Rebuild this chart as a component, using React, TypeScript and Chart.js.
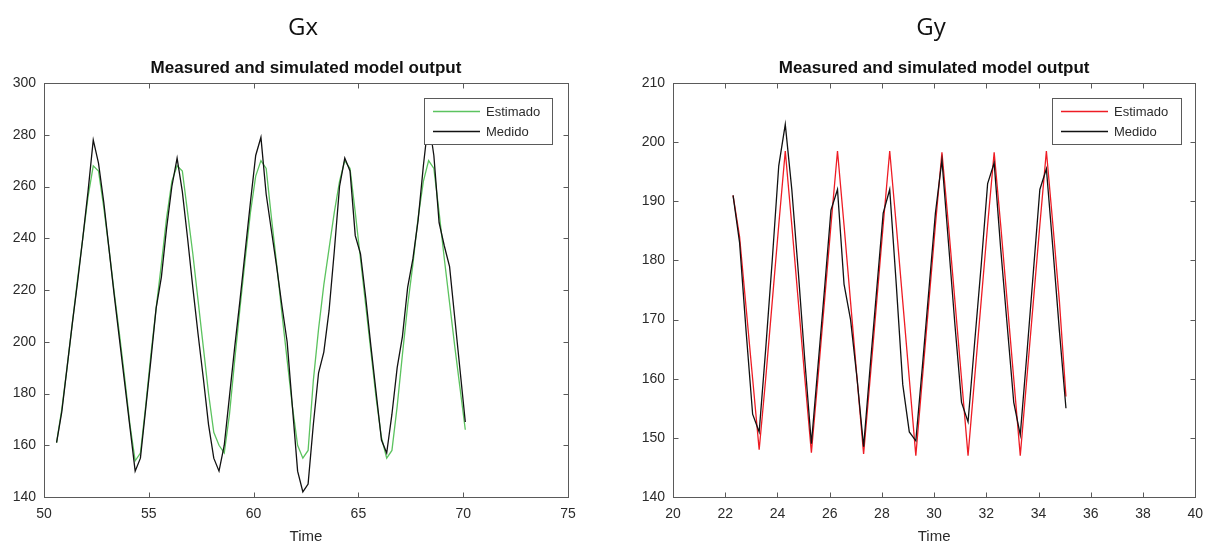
import React, { useEffect, useRef } from "react";
import { Chart, registerables } from "chart.js";

Chart.register(...registerables);

// ---------- Gx data ----------
const gxTime = [
  50.6, 50.85, 51.1, 51.35, 51.6, 51.85, 52.1, 52.35, 52.6, 52.85, 53.1, 53.35, 53.6, 53.85, 54.1, 54.35,
  54.6, 54.85, 55.1, 55.35, 55.6, 55.85, 56.1, 56.35, 56.6, 56.85, 57.1, 57.35, 57.6, 57.85, 58.1, 58.35,
  58.6, 58.85, 59.1, 59.35, 59.6, 59.85, 60.1, 60.35, 60.6, 60.85, 61.1, 61.35, 61.6, 61.85, 62.1, 62.35,
  62.6, 62.85, 63.1, 63.35, 63.6, 63.85, 64.1, 64.35, 64.6, 64.85, 65.1, 65.35, 65.6, 65.85, 66.1, 66.35,
  66.6, 66.85, 67.1, 67.35, 67.6, 67.85, 68.1, 68.35, 68.6, 68.85, 69.1, 69.35, 69.6, 69.85, 70.1,
];
const gxMeasured = [
  161, 173, 190, 207, 223, 240, 258, 278,
  269, 254, 236, 218, 201, 184, 167, 150,
  155, 174, 193, 213, 225, 244, 260, 271,
  258, 240, 221, 203, 186, 168, 155, 150,
  160, 179, 198, 216, 235, 254, 272, 279,
  257, 243, 229, 214, 200, 175, 150, 142,
  145, 168, 188, 196, 212, 235, 260, 271,
  266, 241, 234, 217, 198, 180, 162, 157,
  172, 190, 202, 221, 232, 247, 268, 286,
  272, 246, 237, 229, 209, 189, 169,
];
const gxEstimated = [
  161, 174, 190, 207, 224, 240, 256, 268,
  266, 252, 236, 219, 203, 186, 168, 154,
  157, 175, 195, 213, 230, 248, 262, 268,
  266, 250, 234, 216, 198, 180, 165, 160,
  157, 172, 193, 213, 232, 250, 264, 270,
  267, 248, 230, 211, 193, 175, 160, 155,
  158, 185, 205, 222, 236, 250, 262, 270,
  267, 250, 232, 214, 196, 178, 163, 155,
  158, 175, 195, 214, 230, 248, 262, 270,
  267, 250, 232, 215, 198, 182, 166,
];

// ---------- Gy data ----------
const gyTime = [
  22.3, 22.55, 22.8, 23.05, 23.3, 23.55, 23.8, 24.05, 24.3, 24.55, 24.8, 25.05, 25.3,
  25.55, 25.8, 26.05, 26.3, 26.55, 26.8, 27.05, 27.3, 27.55, 27.8, 28.05, 28.3,
  28.55, 28.8, 29.05, 29.3, 29.55, 29.8, 30.05, 30.3, 30.55, 30.8, 31.05, 31.3,
  31.55, 31.8, 32.05, 32.3, 32.55, 32.8, 33.05, 33.3, 33.55, 33.8, 34.05, 34.3,
  34.55, 34.8, 35.05,
];
const gyMeasured = [
  191, 183, 168, 154, 151, 165, 180, 196, 203, 192, 178, 163, 149,
  162, 175, 188.5, 192, 176, 170, 160, 148.5, 162, 175, 188, 192,
  176, 159, 151, 149.5, 162, 175, 188, 197, 183, 169, 156, 152.7,
  166, 179, 193, 196.5, 182, 169, 156, 150.5, 164, 178, 192, 195.5,
  182, 168, 155,
];
const gyEstimated = [
  191, 184, 172, 160, 148, 160, 173, 186, 198.5, 186, 173, 160, 147.5,
  160, 173, 186, 198.5, 186, 173, 160, 147.3, 160, 173, 186, 198.5,
  186, 173, 160, 147, 160, 173, 186, 198.3, 186, 173, 160, 147,
  160, 173, 186, 198.3, 186, 173, 160, 147, 160, 173, 186, 198.5,
  186, 173, 157,
];

// ---------- labels ----------
const subtitleText = "Measured and simulated model output";
const xAxisLabel = "Time";
const legendLabels = ["Estimado", "Medido"];

const FONT = "'Liberation Sans', Arial, sans-serif";
const FRAME = "#5a5a5a";
const TEXT = "#2b2b2b";

type PanelCfg = {
  title: string;
  time: number[];
  measured: number[];
  estimated: number[];
  estColor: string;
  xMin: number; xMax: number; xStep: number;
  yMin: number; yMax: number; yStep: number;
  yAxisWidth: number;
  padRight: number;
  legendBox: [number, number, number, number];
};

function toXY(t: number[], v: number[]) {
  return t.map((x, i) => ({ x, y: v[i] }));
}

function Panel({ cfg, left }: { cfg: PanelCfg; left: number }) {
  const ref = useRef<HTMLCanvasElement | null>(null);
  useEffect(() => {
    if (!ref.current) return;
    const frame = {
      id: "frame",
      afterDraw(chart: any) {
        const ctx = chart.ctx as CanvasRenderingContext2D;
        const { left: l, right: r, top: t, bottom: b } = chart.chartArea;
        const L = Math.round(l) + 0.5, R = Math.round(r) + 0.5, T = Math.round(t) + 0.5, B = Math.round(b) + 0.5;
        ctx.save();
        ctx.strokeStyle = FRAME;
        ctx.lineWidth = 1;
        ctx.strokeRect(L, T, R - L, B - T);
        const xs = chart.scales.x, ys = chart.scales.y;
        const tl = 5;
        ctx.beginPath();
        xs.ticks.forEach((tk: any) => {
          const px = Math.round(xs.getPixelForValue(tk.value)) + 0.5;
          ctx.moveTo(px, B); ctx.lineTo(px, B - tl);
          ctx.moveTo(px, T); ctx.lineTo(px, T + tl);
        });
        ys.ticks.forEach((tk: any) => {
          const py = Math.round(ys.getPixelForValue(tk.value)) + 0.5;
          ctx.moveTo(L, py); ctx.lineTo(L + tl, py);
          ctx.moveTo(R, py); ctx.lineTo(R - tl, py);
        });
        ctx.stroke();

        // legend
        const [lx, ly, lw, lh] = cfg.legendBox;
        ctx.fillStyle = "#ffffff";
        ctx.fillRect(lx, ly, lw, lh);
        ctx.strokeStyle = FRAME;
        ctx.strokeRect(lx + 0.5, ly + 0.5, lw, lh);
        const colors = [cfg.estColor, "#111111"];
        legendLabels.forEach((lab, i) => {
          const yy = ly + 13.5 + i * 20;
          ctx.strokeStyle = colors[i];
          ctx.lineWidth = 1.3;
          ctx.beginPath();
          ctx.moveTo(lx + 9, yy);
          ctx.lineTo(lx + 56, yy);
          ctx.stroke();
          ctx.fillStyle = TEXT;
          ctx.font = `13px ${FONT}`;
          ctx.textBaseline = "middle";
          ctx.textAlign = "left";
          ctx.fillText(lab, lx + 62, yy + 0.5);
        });

        // titles
        const cx = (l + r) / 2;
        ctx.fillStyle = "#111";
        ctx.textAlign = "center";
        ctx.textBaseline = "middle";
        ctx.font = `24px 'Open Sans', sans-serif`;
        ctx.fillText(cfg.title, cx - 3, 28);
        ctx.font = `bold 17px ${FONT}`;
        ctx.fillText(subtitleText, cx, 68);
        ctx.fillStyle = TEXT;
        ctx.font = `15px ${FONT}`;
        ctx.fillText(xAxisLabel, cx, 537);
        ctx.restore();
      },
    };
    const chart = new Chart(ref.current, {
      type: "line",
      data: {
        datasets: [
          {
            label: legendLabels[1],
            data: toXY(cfg.time, cfg.measured),
            borderColor: "#111111",
            borderWidth: 1.3,
            pointRadius: 0,
            tension: 0,
          },
          {
            label: legendLabels[0],
            data: toXY(cfg.time, cfg.estimated),
            borderColor: cfg.estColor,
            borderWidth: 1.3,
            pointRadius: 0,
            tension: 0,
          },
        ],
      },
      options: {
        animation: false,
        responsive: false,
        devicePixelRatio: 1,
        layout: { padding: { top: 83, right: cfg.padRight, left: 0, bottom: 0 } },
        plugins: { legend: { display: false }, title: { display: false }, tooltip: { enabled: false } },
        scales: {
          x: {
            type: "linear",
            min: cfg.xMin,
            max: cfg.xMax,
            grid: { display: false, drawTicks: false },
            border: { display: false },
            ticks: { stepSize: cfg.xStep, padding: 9, color: TEXT, font: { family: FONT, size: 14 }, maxRotation: 0 },
            afterFit: (s: any) => { s.height = 50; },
          },
          y: {
            min: cfg.yMin,
            max: cfg.yMax,
            grid: { display: false, drawTicks: false },
            border: { display: false },
            ticks: { stepSize: cfg.yStep, padding: 8, color: TEXT, font: { family: FONT, size: 14 } },
            afterFit: (s: any) => { s.width = cfg.yAxisWidth; },
          },
        },
      },
      plugins: [frame],
    } as any);
    return () => chart.destroy();
  }, []);
  return (
    <canvas
      ref={ref}
      width={606}
      height={547}
      style={{ position: "absolute", left, top: 0, width: 606, height: 547 }}
    />
  );
}

const gxCfg: PanelCfg = {
  title: "Gx",
  time: gxTime,
  measured: gxMeasured,
  estimated: gxEstimated,
  estColor: "#5cc35f",
  xMin: 50, xMax: 75, xStep: 5,
  yMin: 140, yMax: 300, yStep: 20,
  yAxisWidth: 44,
  padRight: 38,
  legendBox: [424, 98, 128, 46],
};

const gyCfg: PanelCfg = {
  title: "Gy",
  time: gyTime,
  measured: gyMeasured,
  estimated: gyEstimated,
  estColor: "#ee1c24",
  xMin: 20, xMax: 40, xStep: 2,
  yMin: 140, yMax: 210, yStep: 10,
  yAxisWidth: 67,
  padRight: 16,
  legendBox: [446, 98, 129, 46],
};

export default function App() {
  return (
    <div style={{ position: "absolute", left: 0, top: 0, width: 1212, height: 547, background: "#fff" }}>
      <Panel cfg={gxCfg} left={0} />
      <Panel cfg={gyCfg} left={606} />
    </div>
  );
}
